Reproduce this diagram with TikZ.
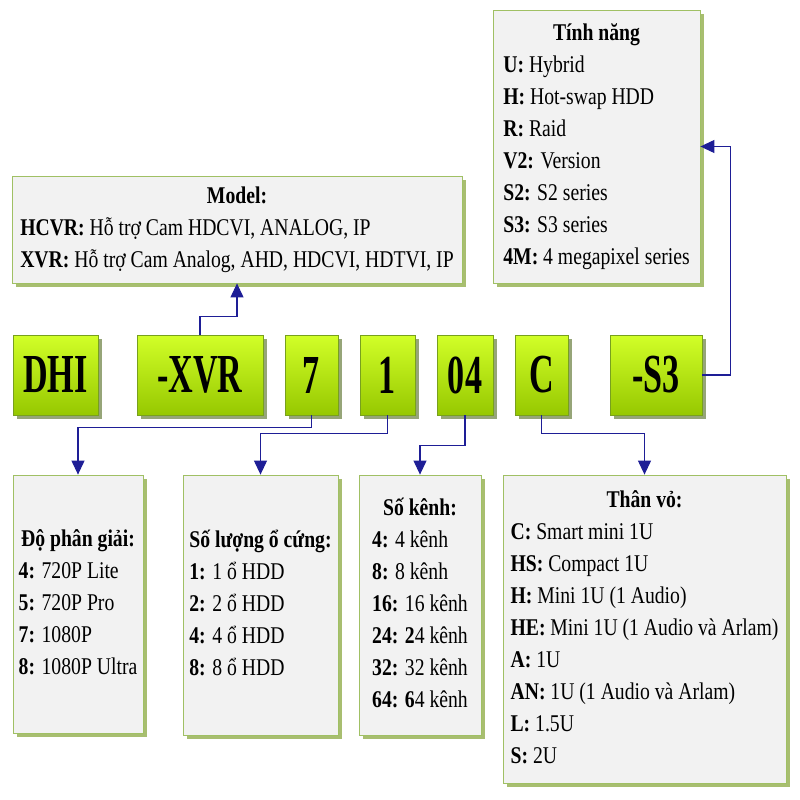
\documentclass[tikz,border=0pt]{standalone}
\usepackage{fontspec}
\setmainfont[FakeStretch=0.82]{Liberation Serif}
\newfontfamily\codefont[FakeStretch=0.62]{Liberation Serif}
\usetikzlibrary{shadows,arrows.meta}

\definecolor{panelfill}{RGB}{242,242,242}
\definecolor{paneledge}{RGB}{160,192,100}
\definecolor{panelshade}{RGB}{168,190,112}
\definecolor{codetop}{RGB}{210,255,40}
\definecolor{codebot}{RGB}{150,200,0}
\definecolor{codeedge}{RGB}{120,160,30}
\definecolor{codeshade}{RGB}{150,165,120}
\definecolor{linkblue}{RGB}{30,30,150}

\newcommand{\itm}[2]{\textbf{#1:} #2\\}
\newcommand{\ttl}[1]{\multicolumn{1}{@{}c@{}}{\textbf{#1}}\\}

\begin{document}
\begin{tikzpicture}[x=1pt,y=-1pt,
		panel/.style={draw=paneledge,line width=0.8pt,fill=panelfill,inner sep=0pt,
			drop shadow={shadow xshift=4pt,shadow yshift=-4pt,fill=panelshade,opacity=1},
			font=\fontsize{24}{32}\selectfont},
		code/.style={draw=codeedge,line width=0.8pt,top color=codetop,bottom color=codebot,
			minimum height=80pt,inner sep=0pt,
			drop shadow={shadow xshift=4pt,shadow yshift=-4pt,fill=codeshade,opacity=1},
			font=\codefont\bfseries\fontsize{55}{60}\selectfont},
		link/.style={draw=linkblue,line width=1.1pt,-{Triangle[width=13pt,length=14pt]}}]
	\useasboundingbox (0,0) rectangle (800,800);
	
	\node[panel,minimum width=207pt,minimum height=273pt] (feat) at (596.5,146.5) {\begin{tabular}{@{}l@{}}
			\ttl{Tính năng}
			\itm{U}{Hybrid}
			\itm{H}{Hot-swap HDD}
			\itm{R}{Raid}
			\itm{V2}{Version}
			\itm{S2}{S2 series}
			\itm{S3}{S3 series}
			\itm{4M}{4 megapixel series}
		\end{tabular}};
	\node[panel,minimum width=450pt,minimum height=107pt] (model) at (237,229.5) {\begin{tabular}{@{}l@{}}
			\ttl{Model:}
			\itm{HCVR}{Hỗ trợ Cam HDCVI, ANALOG, IP}
			\itm{XVR}{Hỗ trợ Cam Analog, AHD, HDCVI, HDTVI, IP}
		\end{tabular}};
	
	\node[code,minimum width=85pt] (dhi) at (55.5,375) {DHI};
	\node[code,minimum width=126pt] (xvr) at (200,375) {-XVR};
	\node[code,minimum width=53pt] (d7) at (311.5,375) {7};
	\node[code,minimum width=55pt] (d1) at (387.5,375) {1};
	\node[code,minimum width=56pt] (d04) at (465,375) {04};
	\node[code,minimum width=53pt] (dc) at (541.5,375) {C};
	\node[code,minimum width=92pt] (ds3) at (656,375) {-S3};
	
	\node[panel,minimum width=130pt,minimum height=258pt] (res) at (78,604) {\begin{tabular}{@{}l@{}}
			\ttl{Độ phân giải:}
			\itm{4}{720P Lite}
			\itm{5}{720P Pro}
			\itm{7}{1080P}
			\itm{8}{1080P Ultra}
		\end{tabular}};
	\node[panel,minimum width=155pt,minimum height=260pt] (hdd) at (260.5,605) {\begin{tabular}{@{}l@{}}
			\ttl{Số lượng ổ cứng:}
			\itm{1}{1 ổ HDD}
			\itm{2}{2 ổ HDD}
			\itm{4}{4 ổ HDD}
			\itm{8}{8 ổ HDD}
		\end{tabular}};
	\node[panel,minimum width=122pt,minimum height=260pt] (chan) at (420,605) {\begin{tabular}{@{}l@{}}
			\ttl{Số kênh:}
			\itm{4}{4 kênh}
			\itm{8}{8 kênh}
			\itm{16}{16 kênh}
			\itm{24}{\textbf{2}4 kênh}
			\itm{32}{32 kênh}
			\itm{64}{\textbf{6}4 kênh}
		\end{tabular}};
	\node[panel,minimum width=283pt,minimum height=308pt] (case) at (644.5,629) {\begin{tabular}{@{}l@{}}
			\ttl{Thân vỏ:}
			\itm{C}{Smart mini 1U}
			\itm{HS}{Compact 1U}
			\itm{H}{Mini 1U (1 Audio)}
			\itm{HE}{Mini 1U (1 Audio và Arlam)}
			\itm{A}{1U}
			\itm{AN}{1U (1 Audio và Arlam)}
			\itm{L}{1.5U}
			\itm{S}{2U}
		\end{tabular}};
	
	\draw[link] (xvr.north) -- ++(0,-18) -| (model.south);
	\draw[link] (ds3.east) -- ++(28,0) |- (feat.east);
	\draw[link] (d7.south) -- ++(0,12) -| (res.north);
	\draw[link] (d1.south) -- ++(0,18) -| (hdd.north);
	\draw[link] (d04.south) -- ++(0,30) -| (chan.north);
	\draw[link] (dc.south) -- ++(0,18) -| (case.north);
\end{tikzpicture}
\end{document}
